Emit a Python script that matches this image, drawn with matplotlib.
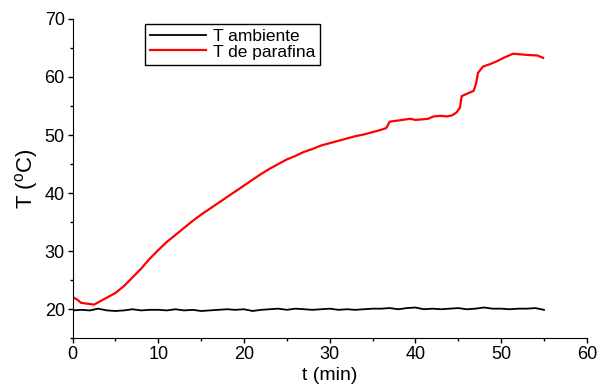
import numpy as np
import matplotlib
matplotlib.use("Agg")
import matplotlib.pyplot as plt
from matplotlib.ticker import MultipleLocator

plt.rcParams['font.family'] = ['Liberation Sans', 'DejaVu Sans']
plt.rcParams['mathtext.default'] = 'regular'

# T de parafina
t_par = [0, 0.5, 1, 1.5, 2, 2.5, 3, 4, 5, 6, 7, 8, 9, 10, 11, 12, 13, 14, 15,
         16, 17, 18, 19, 20, 21, 22, 23, 24, 25, 26, 27, 28, 29, 30, 31, 32,
         33, 34, 35, 36, 36.6, 37.0, 38.0, 39.4, 40.0, 40.8, 41.5, 42.1, 42.9,
         43.7, 44.3, 44.8, 45.2, 45.4, 46.0, 46.8, 47.1, 47.3, 47.9, 48.7,
         49.5, 50.3, 51.4, 52.2, 53.0, 54.2, 54.9]
T_par = [22.1, 21.7, 21.1, 21.0, 20.9, 20.8, 21.2, 22.0, 22.8, 24.0, 25.5, 27.0,
         28.7, 30.2, 31.6, 32.8, 34.0, 35.2, 36.3, 37.3, 38.3, 39.3, 40.3, 41.3,
         42.3, 43.3, 44.2, 45.0, 45.8, 46.4, 47.1, 47.6, 48.2, 48.6, 49.0, 49.4,
         49.8, 50.1, 50.5, 50.9, 51.2, 52.3, 52.5, 52.8, 52.6, 52.7, 52.8, 53.2,
         53.3, 53.2, 53.4, 53.9, 54.7, 56.7, 57.1, 57.6, 59.0, 60.7, 61.8, 62.2,
         62.7, 63.3, 64.0, 63.9, 63.8, 63.7, 63.3]

# T ambiente
t_amb = list(range(0, 56))
T_amb = [19.8, 19.9, 19.8, 20.1, 19.8, 19.7, 19.8, 20.0, 19.8, 19.9,
         19.9, 19.8, 20.0, 19.8, 19.9, 19.7, 19.8, 19.9, 20.0, 19.9,
         20.0, 19.7, 19.9, 20.0, 20.1, 19.9, 20.1, 20.0, 19.9, 20.0,
         20.1, 19.9, 20.0, 19.9, 20.0, 20.1, 20.1, 20.2, 20.0, 20.2,
         20.3, 20.0, 20.1, 20.0, 20.1, 20.2, 20.0, 20.1, 20.3, 20.1,
         20.1, 20.0, 20.1, 20.1, 20.2, 19.9]

fig = plt.figure(figsize=(6, 3.9), dpi=100)
ax = fig.add_axes([0.121, 0.1326, 0.857, 0.819])

ax.plot(t_amb, T_amb, color='black', lw=1.3, label='T ambiente')
ax.plot(t_par, T_par, color='red', lw=1.6, label='T de parafina')

ax.set_xlim(0, 60)
ax.set_ylim(15, 70)
ax.xaxis.set_major_locator(MultipleLocator(10))
ax.xaxis.set_minor_locator(MultipleLocator(5))
ax.yaxis.set_minor_locator(MultipleLocator(5))
ax.set_yticks([20, 30, 40, 50, 60, 70])

ax.spines['top'].set_visible(False)
ax.spines['right'].set_visible(False)
ax.tick_params(which='major', direction='out', length=3.6, width=1, labelsize=13, pad=2)
ax.tick_params(which='minor', direction='out', length=2.2, width=1)

ax.set_xlabel('t (min)', fontsize=14, labelpad=3)
ax.set_ylabel('T ($^o$C)', fontsize=16, labelpad=3)

leg = ax.legend(loc='upper left', bbox_to_anchor=(0.141, 0.984), borderaxespad=0,
                fontsize=12.5, fancybox=False, framealpha=1, edgecolor='black',
                handlelength=3.2, handletextpad=0.4, labelspacing=0.0,
                borderpad=0.3)
leg.get_frame().set_linewidth(1)

plt.savefig('out.png', dpi=100)
